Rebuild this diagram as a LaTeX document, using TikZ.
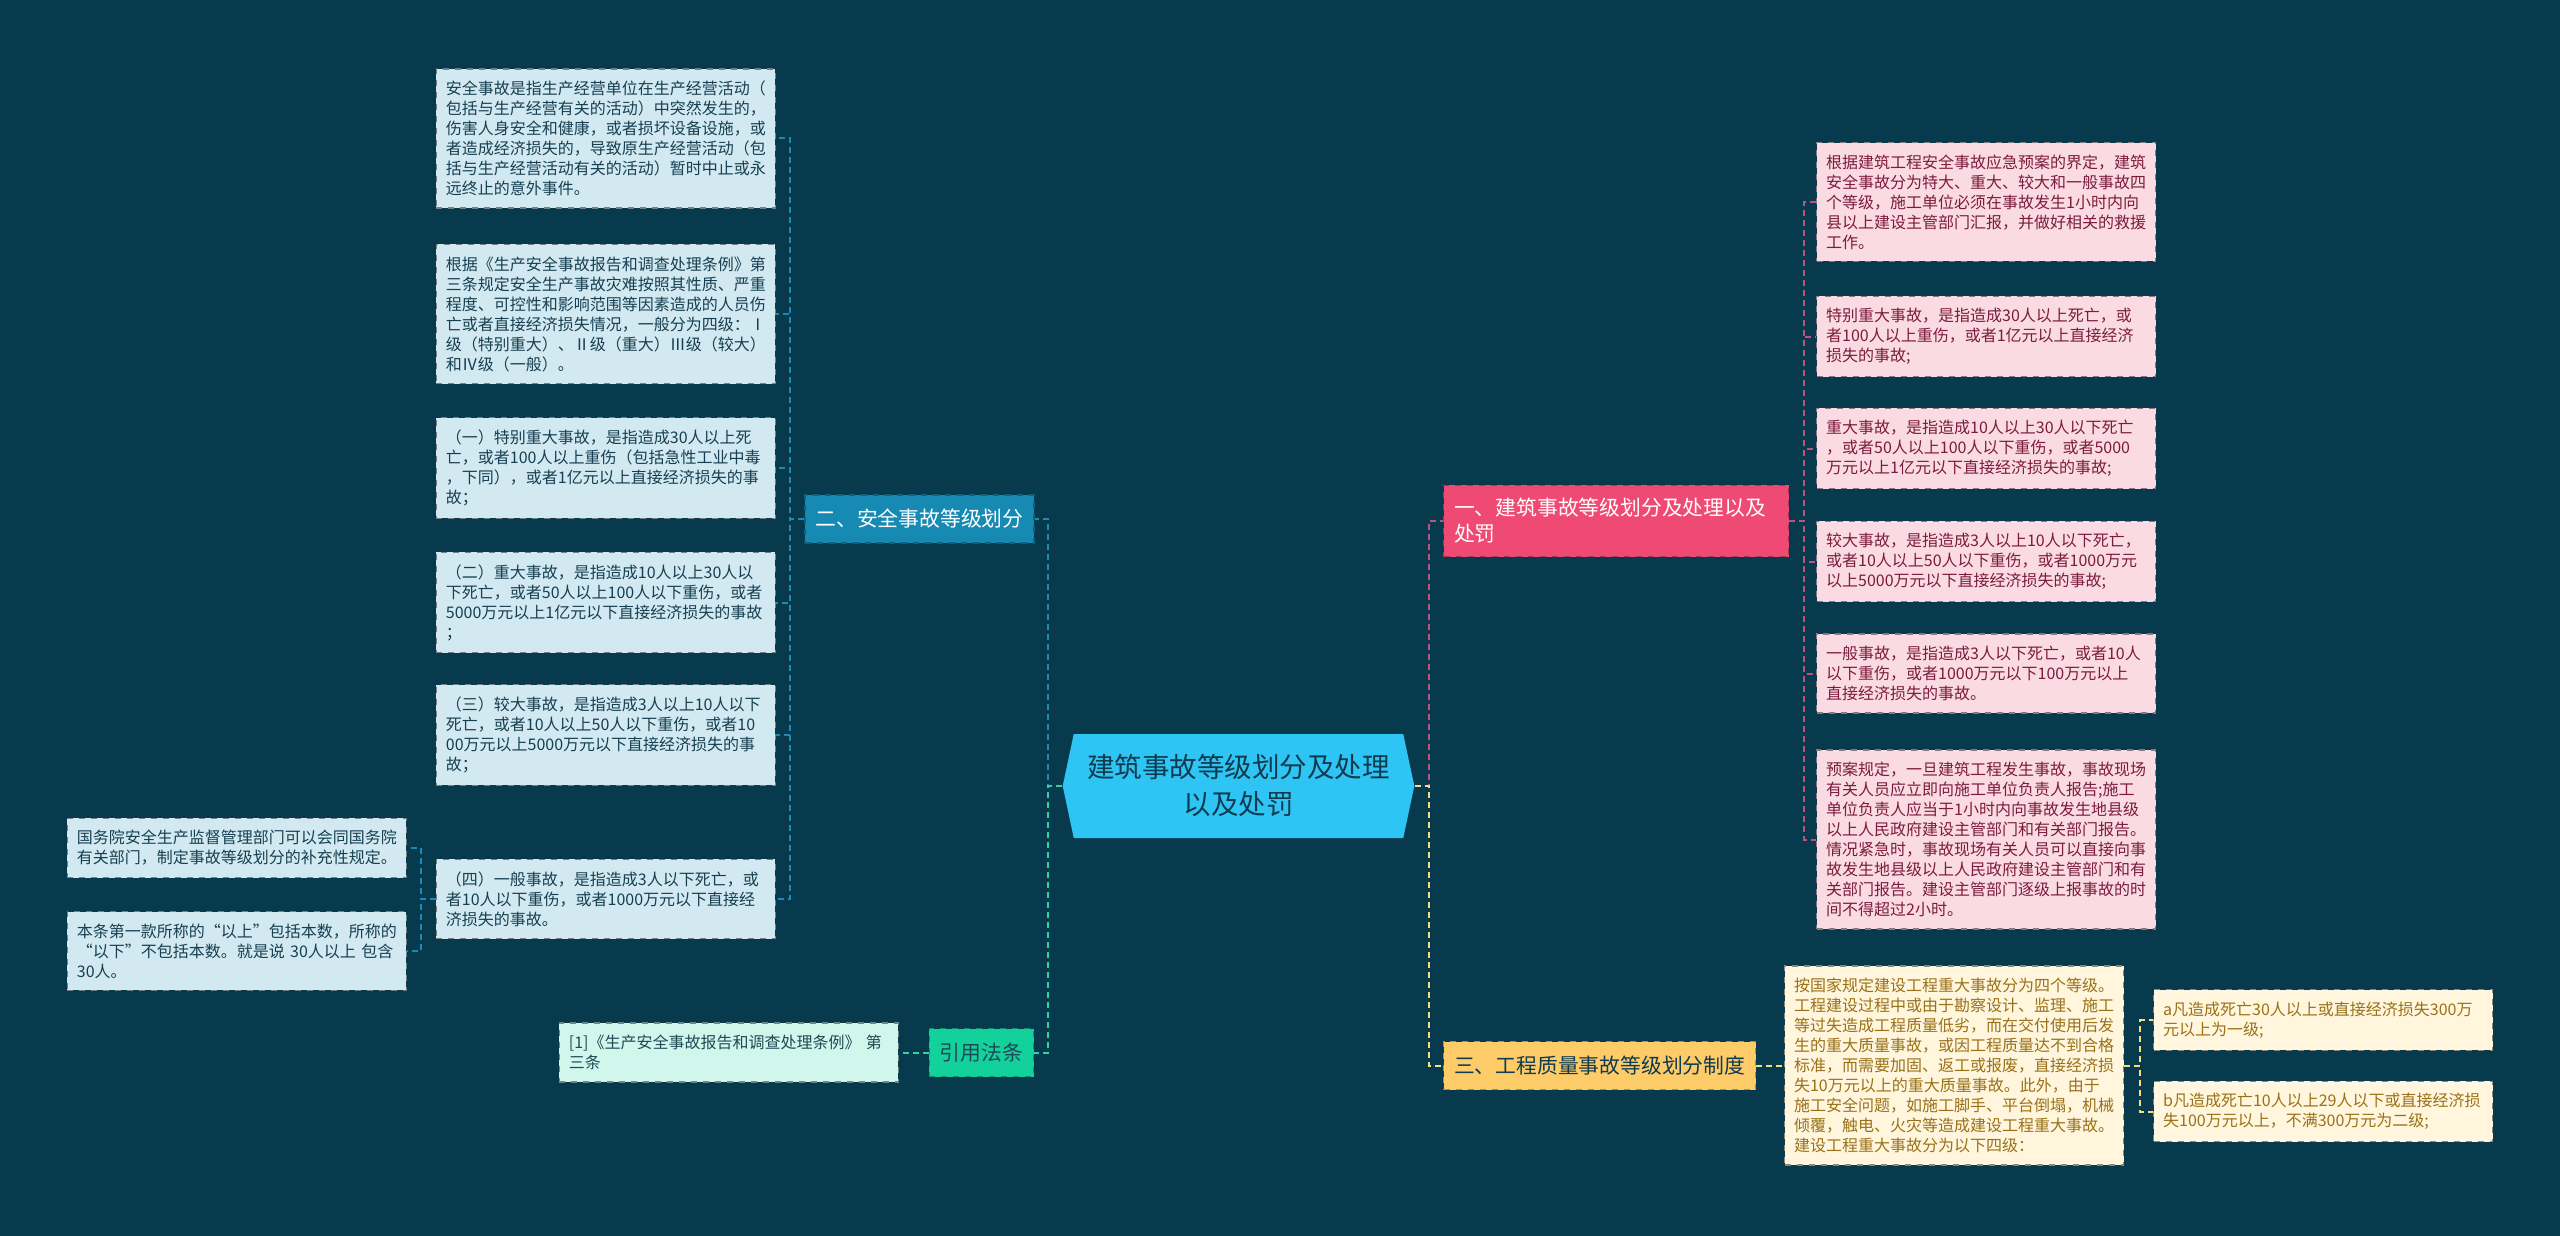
\documentclass[tikz,border=0pt]{standalone}
\usepackage{fontspec}
\setmainfont{Noto Sans CJK SC}
\usetikzlibrary{shapes.symbols}
\definecolor{canvas}{HTML}{073A4C}
\definecolor{rootfill}{HTML}{2EC5F4}
\definecolor{rootink}{HTML}{0F3B4F}
\definecolor{secb}{HTML}{178AB4}
\definecolor{secp}{HTML}{EF4A73}
\definecolor{secy}{HTML}{FECB69}
\definecolor{secg}{HTML}{12D19A}
\definecolor{leafb}{HTML}{D3E9F1}
\definecolor{leafp}{HTML}{FBDBE3}
\definecolor{leafy}{HTML}{FFF6DD}
\definecolor{leafg}{HTML}{D1F6EC}
\definecolor{inkb}{HTML}{163F52}
\definecolor{inkp}{HTML}{7B1C3C}
\definecolor{inky}{HTML}{9A7119}
\definecolor{inkg}{HTML}{1F4A55}
\definecolor{conb}{HTML}{1D8AB5}
\definecolor{conp}{HTML}{C0507E}
\definecolor{cony}{HTML}{F5DD82}
\definecolor{cong}{HTML}{2DD3A2}
\tikzset{
  % the central topic, pointed at both ends
  topic/.style={
    signal, signal to=west and east, signal pointer angle=156,
    fill=rootfill, text=rootink, align=center,
    font=\fontsize{13.75}{18.5}\selectfont,
    inner xsep=6.75pt, inner ysep=4pt, minimum height=52pt},
  % a first-level branch
  branch/.style={
    draw=#1!70!black, dashed, line width=0.6pt, fill=#1, align=left,
    font=\fontsize{10.4}{13}\selectfont,
    inner xsep=5.25pt, inner ysep=6.5pt, minimum height=24pt},
  % a text leaf
  leaf/.style={
    draw=#1!55!black, dashed, line width=0.6pt, fill=#1, align=left,
    font=\fontsize{8}{10}\selectfont,
    text width=160pt, inner xsep=4.75pt, inner ysep=6pt},
  % connectors
  link/.style={draw=#1, line width=1pt, dash pattern=on 3pt off 2pt},
}
\begin{document}
\begin{tikzpicture}[x=0.5pt, y=-0.5pt]

\useasboundingbox (0,0) rectangle (2560,1236);
\fill[canvas] (0,0) rectangle (2560,1236);

\node[topic] (root) at (1238.5,786) {建筑事故等级划分及处理\\以及处罚};

\node[branch=secb, text=white] (s2) at (919.5,519) {二、安全事故等级划分};
\node[branch=secg, text=inkg] (s4) at (981.5,1052.5) {引用法条};
\node[branch=secp, text=white, text width=162pt, anchor=west] (s1) at (1443,521)
  {一、建筑事故等级划分及处理以及\\处罚};
\node[branch=secy, text=rootink, anchor=west] (s3) at (1443,1065.5)
  {三、工程质量事故等级划分制度};

% left side
\node[leaf=leafb, text=inkb, anchor=east] (b1) at (776,138.5) {
  安全事故是指生产经营单位在生产经营活动（\\
  包括与生产经营有关的活动）中突然发生的，\\
  伤害人身安全和健康，或者损坏设备设施，或\\
  者造成经济损失的，导致原生产经营活动（包\\
  括与生产经营活动有关的活动）暂时中止或永\\
  远终止的意外事件。};
\node[leaf=leafb, text=inkb, anchor=east] (b2) at (776,314) {
  根据《生产安全事故报告和调查处理条例》第\\
  三条规定安全生产事故灾难按照其性质、严重\\
  程度、可控性和影响范围等因素造成的人员伤\\
  亡或者直接经济损失情况，一般分为四级：Ⅰ\\
  级（特别重大）、Ⅱ级（重大）Ⅲ级（较大）\\
  和Ⅳ级（一般）。};
\node[leaf=leafb, text=inkb, anchor=east] (b3) at (776,468) {
  （一）特别重大事故，是指造成30人以上死\\
  亡，或者100人以上重伤（包括急性工业中毒\\
  ，下同），或者1亿元以上直接经济损失的事\\
  故；};
\node[leaf=leafb, text=inkb, anchor=east] (b4) at (776,602.5) {
  （二）重大事故，是指造成10人以上30人以\\
  下死亡，或者50人以上100人以下重伤，或者\\
  5000万元以上1亿元以下直接经济损失的事故\\
  ；};
\node[leaf=leafb, text=inkb, anchor=east] (b5) at (776,735) {
  （三）较大事故，是指造成3人以上10人以下\\
  死亡，或者10人以上50人以下重伤，或者10\\
  00万元以上5000万元以下直接经济损失的事\\
  故；};
\node[leaf=leafb, text=inkb, anchor=east] (b6) at (776,899) {
  （四）一般事故，是指造成3人以下死亡，或\\
  者10人以下重伤，或者1000万元以下直接经\\
  济损失的事故。};
\node[leaf=leafb, text=inkb, anchor=east] (c1) at (407,848) {
  国务院安全生产监督管理部门可以会同国务院\\
  有关部门，制定事故等级划分的补充性规定。};
\node[leaf=leafb, text=inkb, anchor=east] (c2) at (407,951) {
  本条第一款所称的“以上”包括本数，所称的\\
  “以下”不包括本数。就是说 30人以上 包含\\
  30人。};
\node[leaf=leafg, text=inkg, anchor=east] (g1) at (899,1052.5) {
  [1]《生产安全事故报告和调查处理条例》 第\\
  三条};

% right side
\node[leaf=leafp, text=inkp, anchor=west] (p1) at (1816,202) {
  根据建筑工程安全事故应急预案的界定，建筑\\
  安全事故分为特大、重大、较大和一般事故四\\
  个等级，施工单位必须在事故发生1小时内向\\
  县以上建设主管部门汇报，并做好相关的救援\\
  工作。};
\node[leaf=leafp, text=inkp, anchor=west] (p2) at (1816,336.5) {
  特别重大事故，是指造成30人以上死亡，或\\
  者100人以上重伤，或者1亿元以上直接经济\\
  损失的事故;};
\node[leaf=leafp, text=inkp, anchor=west] (p3) at (1816,448.5) {
  重大事故，是指造成10人以上30人以下死亡\\
  ，或者50人以上100人以下重伤，或者5000\\
  万元以上1亿元以下直接经济损失的事故;};
\node[leaf=leafp, text=inkp, anchor=west] (p4) at (1816,561.5) {
  较大事故，是指造成3人以上10人以下死亡，\\
  或者10人以上50人以下重伤，或者1000万元\\
  以上5000万元以下直接经济损失的事故;};
\node[leaf=leafp, text=inkp, anchor=west] (p5) at (1816,673.5) {
  一般事故，是指造成3人以下死亡，或者10人\\
  以下重伤，或者1000万元以下100万元以上\\
  直接经济损失的事故。};
\node[leaf=leafp, text=inkp, anchor=west] (p6) at (1816,839.5) {
  预案规定，一旦建筑工程发生事故，事故现场\\
  有关人员应立即向施工单位负责人报告;施工\\
  单位负责人应当于1小时内向事故发生地县级\\
  以上人民政府建设主管部门和有关部门报告。\\
  情况紧急时，事故现场有关人员可以直接向事\\
  故发生地县级以上人民政府建设主管部门和有\\
  关部门报告。建设主管部门逐级上报事故的时\\
  间不得超过2小时。};
\node[leaf=leafy, text=inky, anchor=west] (y1) at (1784,1065.5) {
  按国家规定建设工程重大事故分为四个等级。\\
  工程建设过程中或由于勘察设计、监理、施工\\
  等过失造成工程质量低劣，而在交付使用后发\\
  生的重大质量事故，或因工程质量达不到合格\\
  标准，而需要加固、返工或报废，直接经济损\\
  失10万元以上的重大质量事故。此外，由于\\
  施工安全问题，如施工脚手、平台倒塌，机械\\
  倾覆，触电、火灾等造成建设工程重大事故。\\
  建设工程重大事故分为以下四级：};
\node[leaf=leafy, text=inky, anchor=west] (ya) at (2153,1020) {
  a凡造成死亡30人以上或直接经济损失300万\\
  元以上为一级;};
\node[leaf=leafy, text=inky, anchor=west] (yb) at (2153,1111.5) {
  b凡造成死亡10人以上29人以下或直接经济损\\
  失100万元以上，不满300万元为二级;};

% connectors
\draw[link=conb] (root.west) -- ++(-14,0) |- (s2.east);
\draw[link=cong] (root.west) -- ++(-14,0) |- (s4.east);
\draw[link=conp] (root.east) -- ++(14,0) |- (s1.west);
\draw[link=cony] (root.east) -- ++(14,0) |- (s3.west);

\draw[link=conb] (s2.west) -- ++(-14,0) |- (b1.east);
\draw[link=conb] (s2.west) -- ++(-14,0) |- (b2.east);
\draw[link=conb] (s2.west) -- ++(-14,0) |- (b3.east);
\draw[link=conb] (s2.west) -- ++(-14,0) |- (b4.east);
\draw[link=conb] (s2.west) -- ++(-14,0) |- (b5.east);
\draw[link=conb] (s2.west) -- ++(-14,0) |- (b6.east);
\draw[link=conb] (b6.west) -- ++(-15,0) |- (c1.east);
\draw[link=conb] (b6.west) -- ++(-15,0) |- (c2.east);
\draw[link=cong] (s4.west) -- (g1.east);

\draw[link=conp] (s1.east) -- ++(15,0) |- (p1.west);
\draw[link=conp] (s1.east) -- ++(15,0) |- (p2.west);
\draw[link=conp] (s1.east) -- ++(15,0) |- (p3.west);
\draw[link=conp] (s1.east) -- ++(15,0) |- (p4.west);
\draw[link=conp] (s1.east) -- ++(15,0) |- (p5.west);
\draw[link=conp] (s1.east) -- ++(15,0) |- (p6.west);
\draw[link=cony] (s3.east) -- (y1.west);
\draw[link=cony] (y1.east) -- ++(16,0) |- (ya.west);
\draw[link=cony] (y1.east) -- ++(16,0) |- (yb.west);

\end{tikzpicture}
\end{document}
